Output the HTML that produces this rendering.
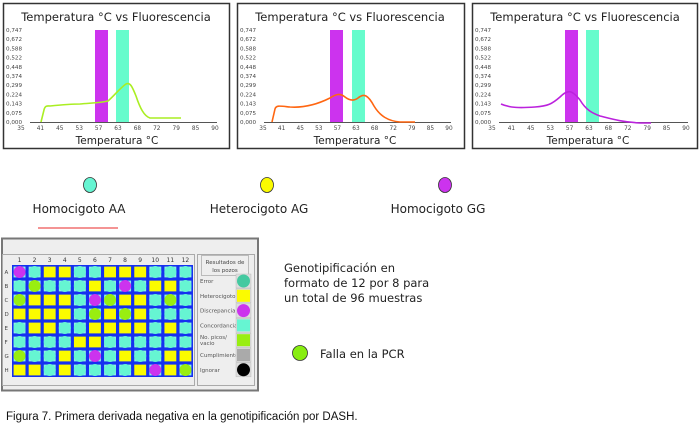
<!DOCTYPE html>
<html><head><meta charset="utf-8"><style>
html,body{margin:0;padding:0;background:#fff;width:700px;height:431px;overflow:hidden}
svg{display:block}
text{font-family:"DejaVu Sans","Liberation Sans",sans-serif}
</style></head><body>
<svg id="s" width="700" height="431" viewBox="0 0 700 431" xmlns="http://www.w3.org/2000/svg">
<rect x="3.5" y="3.5" width="226" height="145" fill="#fff" stroke="#333" stroke-width="1.5"/>
<rect x="237.5" y="3.5" width="227" height="145" fill="#fff" stroke="#333" stroke-width="1.5"/>
<rect x="472.5" y="3.5" width="225" height="145" fill="#fff" stroke="#333" stroke-width="1.5"/>
<g id="charts"></g>
<ellipse cx="90" cy="185" rx="6.5" ry="7.5" fill="#66f5d2" stroke="#333" stroke-width="0.8"/>
<text x="79" y="213" font-size="12" text-anchor="middle" fill="#222">Homocigoto AA</text>
<line x1="38" y1="228" x2="118" y2="228" stroke="#f07070" stroke-width="1.5"/>
<ellipse cx="267" cy="185" rx="6.5" ry="7.5" fill="#fbfb00" stroke="#333" stroke-width="0.8"/>
<text x="259" y="213" font-size="12" text-anchor="middle" fill="#222">Heterocigoto AG</text>
<ellipse cx="445" cy="185" rx="6.5" ry="7.5" fill="#cc33ee" stroke="#333" stroke-width="0.8"/>
<text x="438" y="213" font-size="12" text-anchor="middle" fill="#222">Homocigoto GG</text>
<rect x="2" y="238.5" width="256" height="152" fill="#eeeeee" stroke="#777" stroke-width="2"/>
<rect x="2.5" y="254.5" width="192" height="131" fill="#eeeeee" stroke="#aaa" stroke-width="1"/>
<rect x="197.5" y="254.5" width="57" height="131" fill="#eeeeee" stroke="#aaa" stroke-width="1"/>
<rect x="201.5" y="255.5" width="47" height="20" fill="#eeeeee" stroke="#bbb" stroke-width="1"/>
<text x="225" y="264" font-size="5.5" text-anchor="middle" fill="#444">Resultados de</text>
<text x="225" y="272" font-size="5.5" text-anchor="middle" fill="#444">los pozos</text>
<rect x="12" y="265" width="181" height="112" fill="#1530f0"/>
<g id="wells"></g>
<g id="leg" font-size="5.5" fill="#555"></g>
<text font-size="11.5" fill="#222"><tspan x="284" y="272">Genotipificación en</tspan><tspan x="284" y="287">formato de 12 por 8 para</tspan><tspan x="284" y="302">un total de 96 muestras</tspan></text>
<circle cx="300" cy="353" r="7.5" fill="#88ee11" stroke="#333" stroke-width="0.8"/>
<text x="320" y="358" font-size="11.5" fill="#222">Falla en la PCR</text>
<text x="6" y="420" font-size="11.5" fill="#111" style="font-family:'Liberation Sans',sans-serif">Figura 7. Primera derivada negativa en la genotipificación por DASH.</text>
</svg>
<script>
var NS="http://www.w3.org/2000/svg";
function el(p,t,a,txt){var e=document.createElementNS(NS,t);for(var k in a)e.setAttribute(k,a[k]);if(txt!=null)e.textContent=txt;p.appendChild(e);return e;}
var charts=document.getElementById("charts");
var ylab=["0,747","0,672","0,588","0,522","0,448","0,374","0,299","0,224","0,143","0,075","0,000"];
var xlab=["35","41","45","53","57","63","68","72","79","85","90"];
var cfg=[
 {ox:0,x0:21,x1:215,pb:[95,116],col:"#aaee22",d:"M41,122 L44,110 C45,105 48,106 50,106 C60,105 70,104 80,104 C90,103 100,103 108,101 C114,96 120,88 126,84 C130,82 132,86 136,96 C140,108 144,116 150,118 L181,118"},
 {ox:234,x0:263,x1:449,pb:[330,352],col:"#ff6611",d:"M272,122 L275,109 C276,105 280,106 290,107 C305,108 318,104 330,98 C336,94 340,93 345,97 C350,101 354,101 358,98 C364,93 368,95 374,106 C380,116 388,121 400,122 L415,122"},
 {ox:469,x0:492,x1:686,pb:[565,586],col:"#bb22dd",d:"M501,104 C510,108 520,108 535,107 C548,106 552,104 560,97 C568,89 572,90 580,100 C586,110 592,113 600,116 C612,119 622,122 640,123 L651,123"}
];
cfg.forEach(function(c){
 var g=el(charts,"g",{});
 el(g,"text",{x:c.ox+116,y:21,"font-size":"11.5","text-anchor":"middle",fill:"#222"},"Temperatura °C vs Fluorescencia");
 el(g,"text",{x:(c.x0+c.x1)/2-1,y:144,"font-size":"10.5","text-anchor":"middle",fill:"#222"},"Temperatura °C");
 for(var i=0;i<11;i++){var y=30+i*9.2;el(g,"text",{x:c.ox+6,y:y+2,"font-size":"5.6",fill:"#444"},ylab[i]);}
 el(g,"line",{x1:c.ox+30,y1:122.5,x2:c.x1+2,y2:122.5,stroke:"#555","stroke-width":"1"});
 for(var i=0;i<11;i++){var x=c.x0+i*(c.x1-c.x0)/10;el(g,"text",{x:x,y:130,"font-size":"5.8","text-anchor":"middle",fill:"#444"},xlab[i]);}
 el(g,"rect",{x:c.pb[0],y:30,width:13,height:92,fill:"#cc33ee"});
 el(g,"rect",{x:c.pb[1],y:30,width:13,height:92,fill:"#66fccc"});
 el(g,"path",{d:c.d,fill:"none",stroke:c.col,"stroke-width":"1.6"});
});
var rows=["PTYYTTYYYTTT","TGTTTYTPTYYT","GYYYTPGYYTGT","YYYYTGYGYTTT","TYYTTYYYYTYT","TTTTYYTTTTTT","GTTYTPTYTTYY","YYTYTTTTYPYG"];
var col={P:"#cc33ee",T:"#66f5d2",Y:"#fbfb00",G:"#99ee11"};
var w=document.getElementById("wells");
var cw=181/12,ch=112/8;
for(var c=0;c<12;c++)el(w,"text",{x:19.5+c*cw,y:262,"font-size":"6","text-anchor":"middle",fill:"#333"},String(c+1));
for(var r=0;r<8;r++){
 el(w,"text",{x:4.5,y:274+r*ch,"font-size":"5.5",fill:"#444"},"ABCDEFGH"[r]);
 for(var c=0;c<12;c++){
  var k=rows[r][c],x=12+c*cw,y=265+r*ch;
  el(w,"rect",{x:x+1.6,y:y+1.6,width:cw-3.2,height:ch-3.2,fill:k=="Y"?"#fbfb00":"#8ef2e0"});
  if(k!="Y")el(w,"circle",{cx:x+cw/2,cy:y+ch/2,r:6,fill:col[k]});
 }
}
var leg=document.getElementById("leg");
var items=[["Error","#44c9a0",0],["Heterocigoto","#fbfb00",1],["Discrepancia","#cc33ee",0],["Concordancia","#66f5d2",1],["No. picos/","#99ee11",1],["Cumplimiento","#aaaaaa",1],["Ignorar","#000",0]];
items.forEach(function(it,i){var y=281+i*14.8;
 if(it[0]=="No. picos/"){el(leg,"text",{x:200,y:y-1},"No. picos/");el(leg,"text",{x:200,y:y+5},"vacio");}
 else el(leg,"text",{x:200,y:y+2},it[0]);
 el(leg,"rect",{x:236,y:y-7,width:15,height:14,fill:"#ddd",stroke:"#bbb","stroke-width":"0.5"});
 if(it[2])el(leg,"rect",{x:237,y:y-6,width:13,height:12,fill:it[1]});
 else el(leg,"circle",{cx:243.5,cy:y,r:6.5,fill:it[1]});
});
</script>
</body></html>
